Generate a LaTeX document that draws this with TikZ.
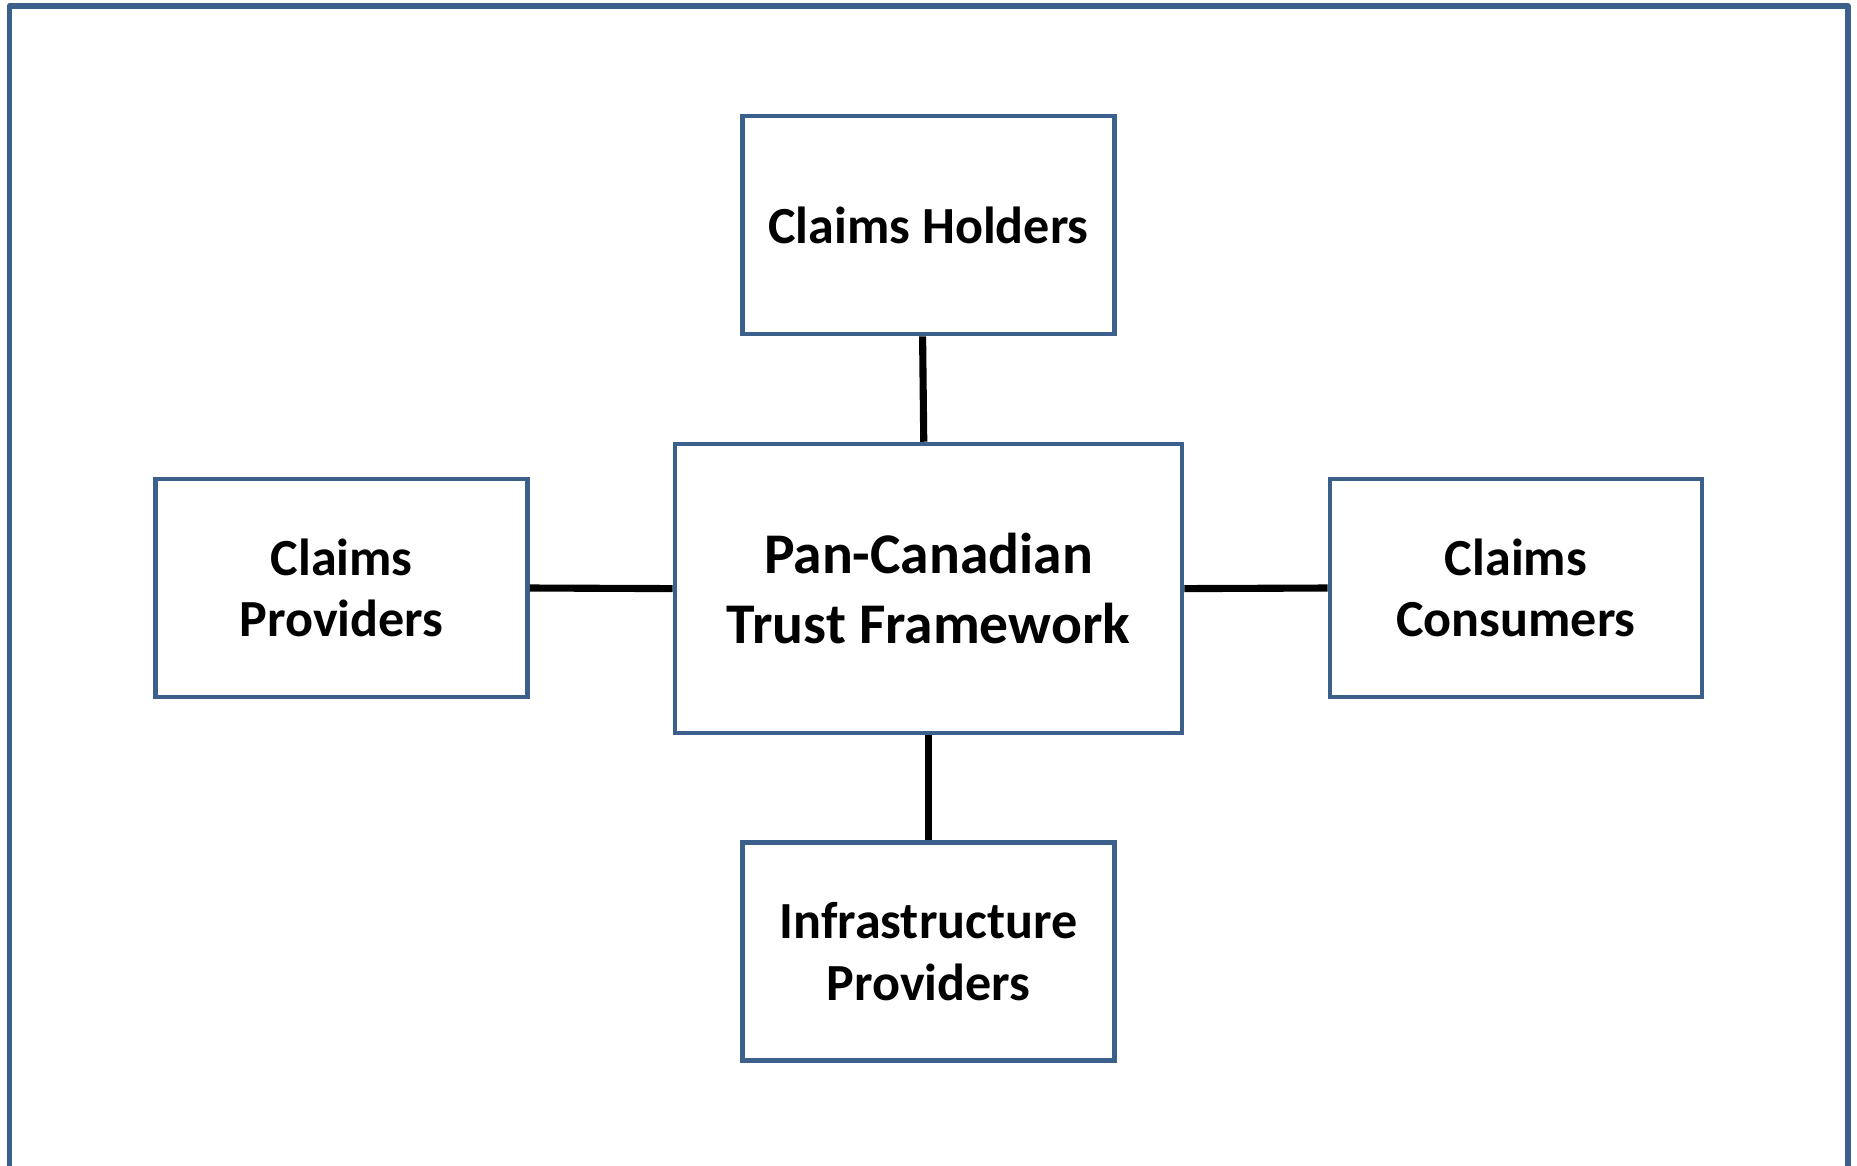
\documentclass[tikz,border=0pt]{standalone}
\usepackage{fontspec}
\setmainfont{Carlito}
\definecolor{frameblue}{RGB}{60,96,140}
\tikzstyle{party} = [draw=frameblue, line width=2pt, minimum width=157pt, minimum height=92pt, inner sep=0pt, align=center, font=\bfseries\fontsize{22}{26}\selectfont]
\tikzstyle{hub} = [party, minimum width=214pt, minimum height=122pt, font=\bfseries\fontsize{24.3}{29.5}\selectfont]
\tikzstyle{link} = [line width=3pt, black]
\begin{document}
\begin{tikzpicture}[x=0.5pt, y=-0.5pt]
\useasboundingbox (0,0) rectangle (1568,984);
\draw[frameblue, line width=2.5pt, line join=round] (8,1000) -- (8,5) -- (1560,5) -- (1560,1000);
\node[hub] (framework) at (784,497) {Pan-Canadian\\Trust Framework};
\node[party] (holders) at (784,190) {Claims Holders};
\node[party] (providers) at (288.5,496.5) {Claims\\Providers};
\node[party] (consumers) at (1280,496.5) {Claims\\Consumers};
\node[party] (infra) at (784,803.5) {Infrastructure\\Providers};
\draw[link] ([xshift=-2.5pt]holders.south) -- ([xshift=-2pt]framework.north);
\draw[link] (framework.south) -- (infra.north);
\draw[link] (providers.east) -- (framework.west);
\draw[link] (framework.east) -- (consumers.west);
\end{tikzpicture}
\end{document}
